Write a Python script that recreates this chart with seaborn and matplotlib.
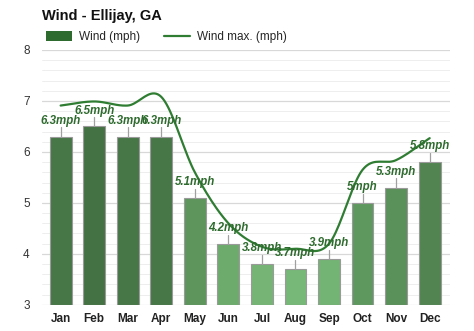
import numpy as np
import pandas as pd
import matplotlib
matplotlib.use("Agg")
import matplotlib.pyplot as plt
import matplotlib.colors as mcolors
from matplotlib.lines import Line2D
from matplotlib.patches import Patch
import seaborn as sns

months = ["Jan", "Feb", "Mar", "Apr", "May", "Jun", "Jul", "Aug", "Sep", "Oct", "Nov", "Dec"]
wind = [6.3, 6.5, 6.3, 6.3, 5.1, 4.2, 3.8, 3.7, 3.9, 5.0, 5.3, 5.8]
wind_labels = ["6.3mph", "6.5mph", "6.3mph", "6.3mph", "5.1mph", "4.2mph", "3.8mph", "3.7mph", "3.9mph", "5mph", "5.3mph", "5.8mph"]
wind_max = [6.91, 6.99, 6.91, 7.08, 5.6, 4.6, 4.14, 4.1, 4.2, 5.65, 5.84, 6.27]

sns.set_theme(style="white")
plt.rcParams['font.family'] = ['Liberation Sans', 'DejaVu Sans']

fig = plt.figure(figsize=(4.74, 3.31), dpi=100)
ax = fig.add_axes([0.089, 0.079, 0.86, 0.77])

# colours: darker for windier months
dark = np.array(mcolors.to_rgb("#3c7a3c"))
light = np.array(mcolors.to_rgb("#6cc26c"))
vmin, vmax = min(wind), max(wind)
cols = []
for v in wind:
    t = (v - vmin) / (vmax - vmin)
    cols.append(mcolors.to_hex(light + (dark - light) * t))

df = pd.DataFrame({"month": months, "wind": wind})
sns.barplot(data=df, x="month", y="wind", hue="month", palette=cols, legend=False,
            width=0.65, edgecolor="#9a9a9a", linewidth=0.8, ax=ax, zorder=3)
for p in ax.patches:
    p.set_y(3)
    p.set_height(p.get_height() - 3)

# smooth line (Catmull-Rom rendering through the monthly points)
xs = np.arange(len(wind_max))
ys = np.array(wind_max)
px = np.concatenate([[xs[0] - 1], xs, [xs[-1] + 1]])
py = np.concatenate([[2 * ys[0] - ys[1]], ys, [2 * ys[-1] - ys[-2]]])
sx, sy = [], []
for i in range(1, len(px) - 2):
    t = np.linspace(0, 1, 20, endpoint=False)
    p0, p1, p2, p3 = py[i - 1], py[i], py[i + 1], py[i + 2]
    yy = 0.5 * ((2 * p1) + (-p0 + p2) * t + (2 * p0 - 5 * p1 + 4 * p2 - p3) * t ** 2 + (-p0 + 3 * p1 - 3 * p2 + p3) * t ** 3)
    sx.extend(px[i] + t)
    sy.extend(yy)
sx.append(xs[-1]); sy.append(ys[-1])
sns.lineplot(x=sx, y=sy, color="#2f7d32", linewidth=1.6, ax=ax, zorder=5, sort=False)

# whiskers and labels
for i, (v, lab) in enumerate(zip(wind, wind_labels)):
    ax.plot([i, i], [v, v + 0.18], color="#a0a0a0", linewidth=0.9, zorder=4)
    ax.text(i, v + 0.19, lab, ha="center", va="bottom", fontsize=8.3, fontweight="bold",
            fontstyle="italic", color="#2e6b2e", zorder=6)

ax.set_ylim(3, 8)
ax.set_xlim(-0.55, 11.6)
ax.set_yticks([3, 4, 5, 6, 7, 8])
ax.set_yticks(np.arange(3, 8.01, 0.2), minor=True)
ax.grid(axis="y", which="major", color="#d8d8d8", linewidth=0.9, zorder=0)
ax.grid(axis="y", which="minor", color="#ebebeb", linewidth=0.6, zorder=0)
ax.set_axisbelow(True)
for s in ax.spines.values():
    s.set_visible(False)
ax.set_xlabel("")
ax.set_ylabel("")
ax.tick_params(axis="x", length=0, pad=6, labelsize=8.5, labelcolor="#222222")
ax.tick_params(axis="y", length=0, pad=9, labelsize=8.5, labelcolor="#333333")
for lbl in ax.get_xticklabels():
    lbl.set_fontweight("bold")

fig.text(0.089, 0.952, "Wind - Ellijay, GA", fontsize=10.5, fontweight="bold", color="#111111", va="center")
handles = [Patch(facecolor="#2e6b2e", edgecolor="none", label="Wind (mph)"),
           Line2D([0], [0], color="#2f7d32", linewidth=1.6, label="Wind max. (mph)")]
fig.legend(handles=handles, loc="center left", bbox_to_anchor=(0.075, 0.888), ncol=2, frameon=False,
           fontsize=8.5, handlelength=2.2, handleheight=0.9, columnspacing=2.0, handletextpad=0.6)

fig.savefig("out.png", dpi=100)
